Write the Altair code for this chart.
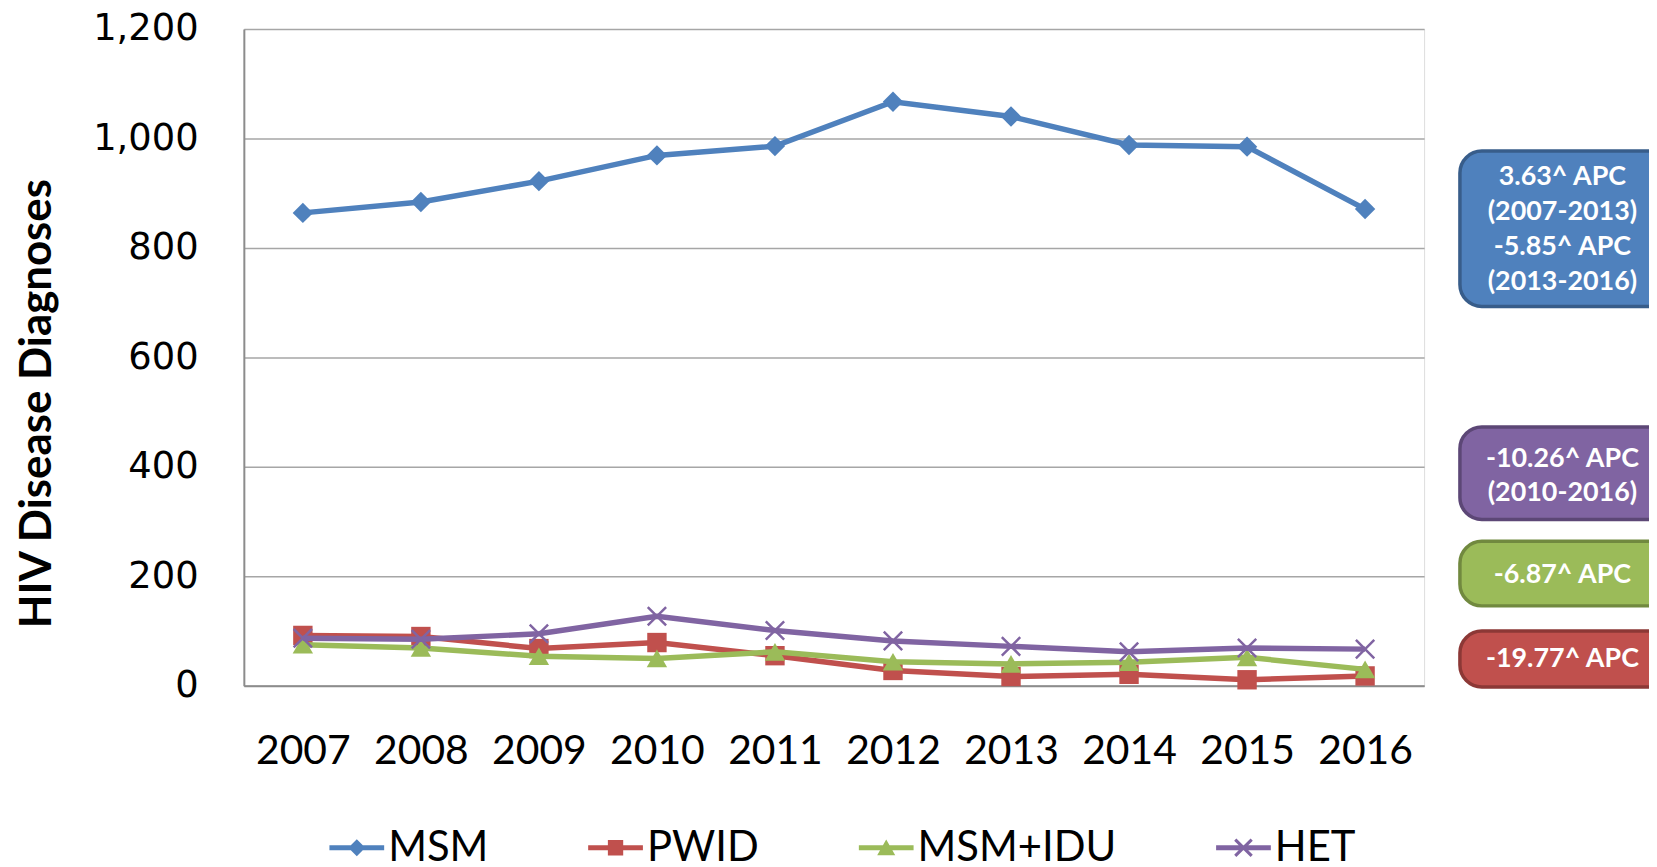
import altair as alt
import pandas as pd

# ---------------- data ----------------
years = ["2007", "2008", "2009", "2010", "2011", "2012", "2013", "2014", "2015", "2016"]
series = ["MSM", "PWID", "MSM+IDU", "HET"]
msm = [864, 884, 922, 969, 986, 1067, 1040, 988, 985, 871]
pwid = [92, 90, 68, 79, 55, 28, 17, 21, 11, 18]
msm_idu = [75, 69, 54, 50, 62, 44, 40, 43, 52, 30]
het = [87, 85, 95, 127, 101, 82, 72, 62, 69, 67]
y_ticks = [0, 200, 400, 600, 800, 1000, 1200]

# trend annotation boxes (value range each box covers on the y scale)
box_text = ["3.63^ APC\n(2007-2013)\n-5.85^ APC\n(2013-2016)",
            "-10.26^ APC\n(2010-2016)",
            "-6.87^ APC",
            "-19.77^ APC"]
box_top = [977, 473, 264, 100]
box_bottom = [693, 304, 146, -2]
box_first_line = [929, 415, 202, 48]

# ---------------- styles ----------------
colors = ["#4F81BD", "#C0504D", "#9BBB59", "#8064A2"]
edges = ["#385D8A", "#5C4776", "#71893F", "#8C3836"]
box_colors = [colors[0], colors[3], colors[2], colors[1]]
box_edges = [edges[0], edges[1], edges[2], edges[3]]
marker_shapes = ["diamond", "square", "triangle-up", "M-1,-1L1,1M-1,1L1,-1"]
marker_sizes = [420, 380, 420, 340]
marker_filled = [True, True, True, False]

bar = "M-1,-0.09L1,-0.09L1,0.09L-1,0.09Z"
legend_paths = [
    bar + "M0,-0.31L0.31,0L0,0.31L-0.31,0Z",
    bar + "M-0.28,-0.28L0.28,-0.28L0.28,0.28L-0.28,0.28Z",
    bar + "M0,-0.3L0.33,0.27L-0.33,0.27Z",
    bar + "M-0.26,-0.34L0.34,0.26L0.26,0.34L-0.34,-0.26Z"
          "M-0.34,0.26L0.26,-0.34L0.34,-0.26L-0.26,0.34Z",
]

rows = []
for s, vals in zip(series, [msm, pwid, msm_idu, het]):
    for yr, v in zip(years, vals):
        rows.append({"year": yr, "group": s, "cases": v})
df = pd.DataFrame(rows)

ann = pd.DataFrame({
    "label": box_text,
    "top": box_top,
    "bottom": box_bottom,
    "first": box_first_line,
    "fill": box_colors,
    "edge": box_edges,
})

W, H = 1186, 660

x_axis = alt.Axis(labelAngle=0, labelFont="Lato", labelFontSize=41, labelColor="black",
                  labelPadding=46, ticks=False, tickSize=0, grid=False,
                  domainColor="#8C8C8C", domainWidth=2)
y_axis = alt.Axis(values=y_ticks, format=",.0f", labelFont="DejaVu Sans", labelFontSize=37,
                  labelColor="black", labelPadding=46, ticks=False, tickSize=0,
                  grid=True, gridColor="#A6A6A6", gridWidth=1.5,
                  domainColor="#8C8C8C", domainWidth=2,
                  titleFont="Lato", titleFontSize=44, titleFontWeight="bold",
                  titleColor="black", titleAngle=270, titleX=-207, titleY=376,
                  titleAlign="center", titleBaseline="middle")
y_scale = alt.Scale(domain=[0, 1200], nice=False, zero=True)


def X():
    return alt.X("year:O", sort=years, axis=x_axis, title=None)


def Y(field):
    return alt.Y(field + ":Q", scale=y_scale, axis=y_axis, title="HIV Disease Diagnoses")


base = alt.Chart(df)

layers = []
for i, s in enumerate(series):
    sub = base.transform_filter(alt.datum.group == s)
    layers.append(sub.mark_line(strokeWidth=5.5, color=colors[i]).encode(
        x=X(), y=Y("cases")))
    if marker_filled[i]:
        pt = sub.mark_point(shape=marker_shapes[i], size=marker_sizes[i], filled=True,
                            opacity=1, color=colors[i], strokeWidth=0)
    else:
        pt = sub.mark_point(shape=marker_shapes[i], size=marker_sizes[i], filled=False,
                            opacity=1, color=colors[i], strokeWidth=2.5)
    layers.append(pt.encode(x=X(), y=Y("cases")))

leg = alt.Legend(orient="none", legendX=86, legendY=795, direction="horizontal",
                 symbolSize=3025, symbolStrokeWidth=0, symbolOpacity=1,
                 labelFont="Lato", labelFontSize=42, labelColor="black",
                 labelLimit=500, columnPadding=100, labelOffset=4, padding=0)

ghost = base.mark_point(opacity=0, filled=True).encode(
    x=X(), y=Y("cases"),
    color=alt.Color("group:N", scale=alt.Scale(domain=series, range=colors),
                    sort=series, legend=leg, title=None),
    shape=alt.Shape("group:N", scale=alt.Scale(domain=series, range=legend_paths),
                    sort=series, legend=leg, title=None),
)

boxes = alt.Chart(ann).mark_rect(cornerRadius=22, strokeWidth=3.5).encode(
    x=alt.value(1222), x2=alt.value(1520),
    y=Y("top"), y2="bottom:Q",
    fill=alt.Fill("fill:N", scale=None),
    stroke=alt.Stroke("edge:N", scale=None),
)
box_labels = alt.Chart(ann).mark_text(font="Lato", fontWeight="bold", fontSize=27,
                                      color="white", lineBreak="\n", lineHeight=35,
                                      align="center", baseline="middle").encode(
    x=alt.value(1325), y=Y("first"), text="label:N")

chart = alt.layer(*layers, ghost, boxes, box_labels).properties(
    width=W, height=H,
    padding={"left": 237, "top": 19, "right": 226, "bottom": 180},
    autosize=alt.AutoSizeParams(type="none"),
).configure_view(stroke=None).configure(font="Lato")

chart.save("out.html", embed_options={"renderer": "svg", "actions": False})
